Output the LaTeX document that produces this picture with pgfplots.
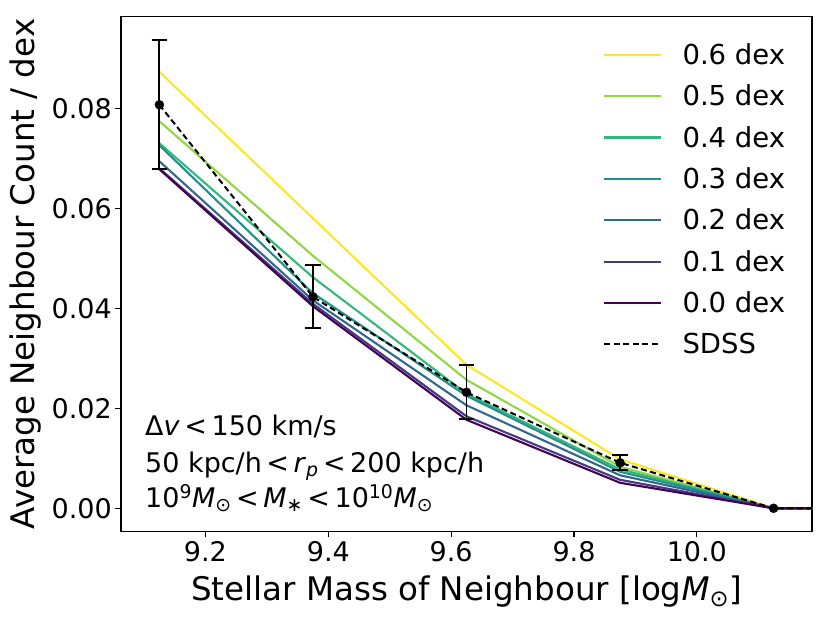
\documentclass[border=0pt]{standalone}
\usepackage{fontspec}
\setmainfont{DejaVu Sans}
\usepackage{pgfplots}
\usepackage{pgfplotstable}
\pgfplotsset{compat=1.18}
\definecolor{v0}{HTML}{440154}
\definecolor{v1}{HTML}{443A83}
\definecolor{v2}{HTML}{31688E}
\definecolor{v3}{HTML}{21918C}
\definecolor{v4}{HTML}{35B779}
\definecolor{v5}{HTML}{90D743}
\definecolor{v6}{HTML}{FDE725}
\newcommand{\Msun}{\textit{M}\textsubscript{⊙}}
\pgfplotstableread{
x      s6     s5     s4     s3     s2     s1     s0
9.125  0.0873 0.0774 0.0730 0.0726 0.0694 0.0680 0.0678
9.375  0.0580 0.0505 0.0462 0.0430 0.0416 0.0409 0.0404
9.625  0.0287 0.0257 0.0229 0.0225 0.0206 0.0184 0.0177
9.875  0.0098 0.0083 0.0078 0.0073 0.0066 0.0057 0.0051
10.125 0      0      0      0      0      0      0
10.375 0      0      0      0      0      0      0
}\sims
\pgfplotstableread{
x      y      e
9.125  0.0807 0.0129
9.375  0.0423 0.0063
9.625  0.0232 0.0054
9.875  0.0091 0.0015
10.125 0      0
10.375 0      0
}\sdss
\pgfplotstableread{
x      y      e
9.125  0.0807 0.0129
9.375  0.0423 0.0063
9.625  0.0232 0.0054
9.875  0.0091 0.0015
}\sdsserr
\pgfplotstableread{
x      y
9.125  0.0807
9.375  0.0423
9.625  0.0232
9.875  0.0091
10.125 0
}\sdsspts
\begin{document}
\begin{tikzpicture}
\begin{axis}[
  name=ax, at={(0,0)}, anchor=south west,
  scale only axis, width=691pt, height=515.5pt,
  xmin=9.0625, xmax=10.1875, ymin=-0.0047, ymax=0.0984,
  xtick={9.2,9.4,9.6,9.8,10.0},
  ytick={0,0.02,0.04,0.06,0.08},
  scaled y ticks=false, scaled x ticks=false,
  xticklabel style={/pgf/number format/fixed, /pgf/number format/fixed zerofill, /pgf/number format/precision=1},
  yticklabel style={/pgf/number format/fixed, /pgf/number format/fixed zerofill, /pgf/number format/precision=2},
  /pgf/number format/assume math mode=true,
  tick label style={font=\fontsize{27}{31}\selectfont},
  tick align=outside, xtick pos=lower, ytick pos=left,
  major tick length=5.7pt,
  tick style={black, line width=1.1pt},
  axis line style={line width=1.1pt},
  legend style={draw=none, fill=none, at={(0.6935,1)}, anchor=north west, yshift=-23pt,
    font=\fontsize{27.5}{31}\selectfont, row sep=15pt, column sep=18pt},
  legend cell align=left,
  legend image code/.code={\draw[#1] (0pt,0pt) -- (57pt,0pt);},
]
\addplot[v6, line width=2.1pt] table[x=x,y=s6] {\sims}; \addlegendentry{0.6 dex}
\addplot[v5, line width=2.1pt] table[x=x,y=s5] {\sims}; \addlegendentry{0.5 dex}
\addplot[v4, line width=2.1pt] table[x=x,y=s4] {\sims}; \addlegendentry{0.4 dex}
\addplot[v3, line width=2.1pt] table[x=x,y=s3] {\sims}; \addlegendentry{0.3 dex}
\addplot[v2, line width=2.1pt] table[x=x,y=s2] {\sims}; \addlegendentry{0.2 dex}
\addplot[v1, line width=2.1pt] table[x=x,y=s1] {\sims}; \addlegendentry{0.1 dex}
\addplot[v0, line width=2.1pt] table[x=x,y=s0] {\sims}; \addlegendentry{0.0 dex}
\addplot[black, line width=2pt, dash pattern=on 6pt off 3.5pt] table[x=x,y=y] {\sdss}; \addlegendentry{SDSS}
\addplot[black, draw=none, forget plot, mark=none,
  error bars/.cd, y dir=both, y explicit,
  error bar style={line width=1.8pt, black, solid},
  error mark options={rotate=90, mark size=7.7pt, line width=1.8pt, black, solid}]
  table[x=x,y=y,y error=e] {\sdsserr};
\addplot[black, only marks, mark=*, mark size=4.5pt, forget plot] table[x=x,y=y] {\sdsspts};
\node[anchor=base west, inner sep=0pt, font=\fontsize{27}{31}\selectfont] at (axis cs:9.1016,0.01446) {Δ\textit{v}\,<\,150 km/s};
\node[anchor=base west, inner sep=0pt, font=\fontsize{27}{31}\selectfont] at (axis cs:9.1016,0.00706) {50 kpc/h\,<\,\textit{r}\textsubscript{\textit{p}}\,<\,200 kpc/h};
\node[anchor=base west, inner sep=0pt, font=\fontsize{27}{31}\selectfont] at (axis cs:9.1016,0.00006) {10\textsuperscript{9}\Msun\,<\,\textit{M}\textsubscript{∗}\,<\,10\textsuperscript{10}\Msun};
\end{axis}
\node[anchor=base, inner sep=0pt, font=\fontsize{32.5}{38}\selectfont] at ([yshift=-69pt]ax.south) {Stellar Mass of Neighbour [log\Msun]};
\node[anchor=base, rotate=90, inner sep=0pt, font=\fontsize{32.5}{38}\selectfont] at ([xshift=-86.7pt]ax.west) {Average Neighbour Count / dex};
\pgfresetboundingbox
\path ([xshift=-121pt,yshift=-88.2pt]ax.south west) rectangle ++(830pt,620pt);
\end{tikzpicture}
\end{document}
